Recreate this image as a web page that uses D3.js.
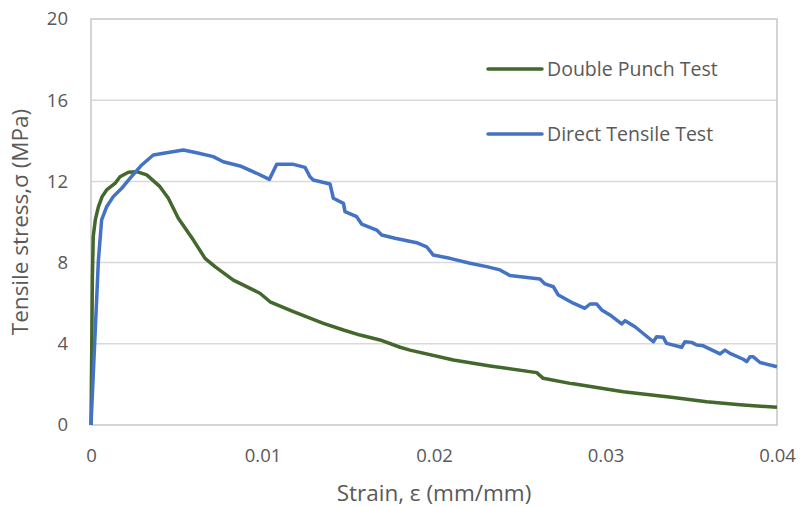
<!DOCTYPE html>
<html>

<head>
    <meta charset="utf-8">
    <title>Tensile stress-strain</title>
    <style>
        body { margin: 0; background: #fff; }
        text { font-family: "Open Sans", Lato, sans-serif; fill: #595959; }
    </style>
</head>

<body>
    <svg class="chart"></svg>
    <script src="https://cdn.jsdelivr.net/npm/d3@7"></script>
    <script>
        // Double Punch Test
        const dptStrain = [0, 0.00004, 0.00008, 0.00013, 0.00025, 0.00043, 0.00065, 0.00091, 0.0014, 0.00169, 0.00218,
            0.00266, 0.00325, 0.00402, 0.00451, 0.00509, 0.00597, 0.00665, 0.00723, 0.0083, 0.00985, 0.01044,
            0.0118, 0.01277, 0.01355, 0.01472, 0.01569, 0.01685, 0.01802, 0.0186, 0.02113, 0.02327, 0.02599,
            0.02637, 0.02793, 0.02812, 0.03104, 0.03396, 0.0359, 0.03784, 0.04]
        const dptStress = [0, 3.5, 7.2, 9.28, 10.1, 10.75, 11.25, 11.58, 11.9, 12.23, 12.45,
            12.48, 12.32, 11.74, 11.17, 10.18, 9.11, 8.21, 7.8, 7.14, 6.49, 6.07,
            5.58, 5.26, 5.01, 4.68, 4.43, 4.19, 3.83, 3.69, 3.2, 2.91, 2.58,
            2.3, 2.05, 2.03, 1.64, 1.36, 1.15, 1.0, 0.87]

        // Direct Tensile Test
        const dttStrain = [0, 0.00043, 0.00062, 0.00091, 0.0013, 0.00179, 0.00227, 0.00296, 0.00363, 0.00441, 0.00538,
            0.00616, 0.00713, 0.00771, 0.00869, 0.00966, 0.0104, 0.01083, 0.0118, 0.01248, 0.01277, 0.01296,
            0.01394, 0.01413, 0.01472, 0.01481, 0.01549, 0.01578, 0.01666, 0.01695, 0.01773, 0.01899, 0.01957,
            0.01996, 0.02093, 0.0221, 0.02307, 0.02385, 0.02443, 0.02618, 0.02647, 0.02696, 0.02725, 0.02812,
            0.0288, 0.0291, 0.02949, 0.02978, 0.03026, 0.03094, 0.03114, 0.03172, 0.03279, 0.03298, 0.03337,
            0.03356, 0.03444, 0.03463, 0.03502, 0.03532, 0.0357, 0.03668, 0.03697, 0.03726, 0.03803, 0.03823,
            0.03843, 0.03862, 0.03901, 0.04]
        const dttStress = [0, 8.1, 10.1, 10.75, 11.25, 11.66, 12.15, 12.81, 13.3, 13.41, 13.55,
            13.41, 13.22, 12.97, 12.76, 12.4, 12.1, 12.84, 12.84, 12.69, 12.23, 12.07,
            11.87, 11.17, 10.92, 10.51, 10.26, 9.9, 9.6, 9.36, 9.2, 8.98, 8.78,
            8.37, 8.21, 7.97, 7.8, 7.64, 7.36, 7.19, 6.95, 6.81, 6.4, 6.0,
            5.75, 5.96, 5.96, 5.67, 5.42, 4.98, 5.14, 4.84, 4.1, 4.35, 4.32,
            4.02, 3.83, 4.1, 4.07, 3.94, 3.9, 3.5, 3.69, 3.53, 3.24, 3.12,
            3.36, 3.36, 3.08, 2.87]

        const xTicks = [0, 0.01, 0.02, 0.03, 0.04]
        const yTicks = [0, 4, 8, 12, 16, 20]
        const seriesNames = ["Double Punch Test", "Direct Tensile Test"]
        const seriesColors = ["#43682B", "#4472C4"]

        var width = 800, height = 507
        const margin = { left: 91, right: 23, top: 19, down: 82 }

        var svg = d3.select(".chart")
            .attr("width", width)
            .attr("height", height)

        var xScale = d3.scaleLinear()
            .domain([0, 0.04])
            .range([margin.left, width - margin.right])

        var yScale = d3.scaleLinear()
            .domain([0, 20])
            .range([height - margin.down, margin.top])

        // gridlines
        svg.append("g")
            .selectAll("line")
            .data(yTicks.filter(d => d > 0 && d < 20))
            .enter()
            .append("line")
            .attr("x1", xScale(0))
            .attr("x2", xScale(0.04))
            .attr("y1", d => yScale(d))
            .attr("y2", d => yScale(d))
            .attr("stroke", "#d9d9d9")
            .attr("stroke-width", 1.5)

        // plot border
        svg.append("rect")
            .attr("x", xScale(0))
            .attr("y", yScale(20))
            .attr("width", xScale(0.04) - xScale(0))
            .attr("height", yScale(0) - yScale(20))
            .attr("fill", "none")
            .attr("stroke", "#c6c6c6")
            .attr("stroke-width", 1.5)

        // y axis
        var yAxis = svg.append("g")
            .attr("transform", `translate(${margin.left}, 0)`)
            .call(d3.axisLeft(yScale).tickValues(yTicks).tickSize(0).tickPadding(23))
        yAxis.select(".domain").remove()
        yAxis.selectAll("text").style("font-size", "18.5px").attr("fill", "#595959")

        // x axis
        var xAxis = svg.append("g")
            .attr("transform", `translate(0, ${height - margin.down})`)
            .call(d3.axisBottom(xScale).tickValues(xTicks).tickFormat(d => d === 0 ? "0" : d3.format(".2f")(d)).tickSize(0).tickPadding(24))
        xAxis.select(".domain").remove()
        xAxis.selectAll("text").style("font-size", "18.5px").attr("fill", "#595959")

        // axis titles
        svg.append("text")
            .attr("x", (xScale(0) + xScale(0.04)) / 2)
            .attr("y", 501)
            .attr("text-anchor", "middle")
            .style("font-size", "22.5px")
            .text("Strain, ε (mm/mm)")

        svg.append("text")
            .attr("transform", `translate(28, ${(yScale(0) + yScale(20)) / 2}) rotate(-90)`)
            .attr("text-anchor", "middle")
            .style("font-size", "22.5px")
            .text("Tensile stress,σ (MPa)")

        // lines
        var line = d3.line()
            .x(d => xScale(d[0]))
            .y(d => yScale(d[1]))

        const series = [
            d3.zip(dptStrain, dptStress),
            d3.zip(dttStrain, dttStress)
        ]

        svg.append("g")
            .selectAll("path")
            .data(series)
            .enter()
            .append("path")
            .attr("d", d => line(d))
            .attr("fill", "none")
            .attr("stroke", (d, i) => seriesColors[i])
            .attr("stroke-width", 3.5)
            .attr("stroke-linejoin", "round")

        // legend
        var legend = svg.append("g")
            .selectAll("g")
            .data(seriesNames)
            .enter()
            .append("g")
            .attr("transform", (d, i) => `translate(488, ${69 + i * 65})`)

        legend.append("line")
            .attr("x1", 0)
            .attr("x2", 54)
            .attr("stroke", (d, i) => seriesColors[i])
            .attr("stroke-width", 3.5)
            .attr("stroke-linecap", "round")

        legend.append("text")
            .attr("x", 59)
            .attr("dy", "0.35em")
            .style("font-size", "19.5px")
            .text(d => d)
    </script>
</body>

</html>
